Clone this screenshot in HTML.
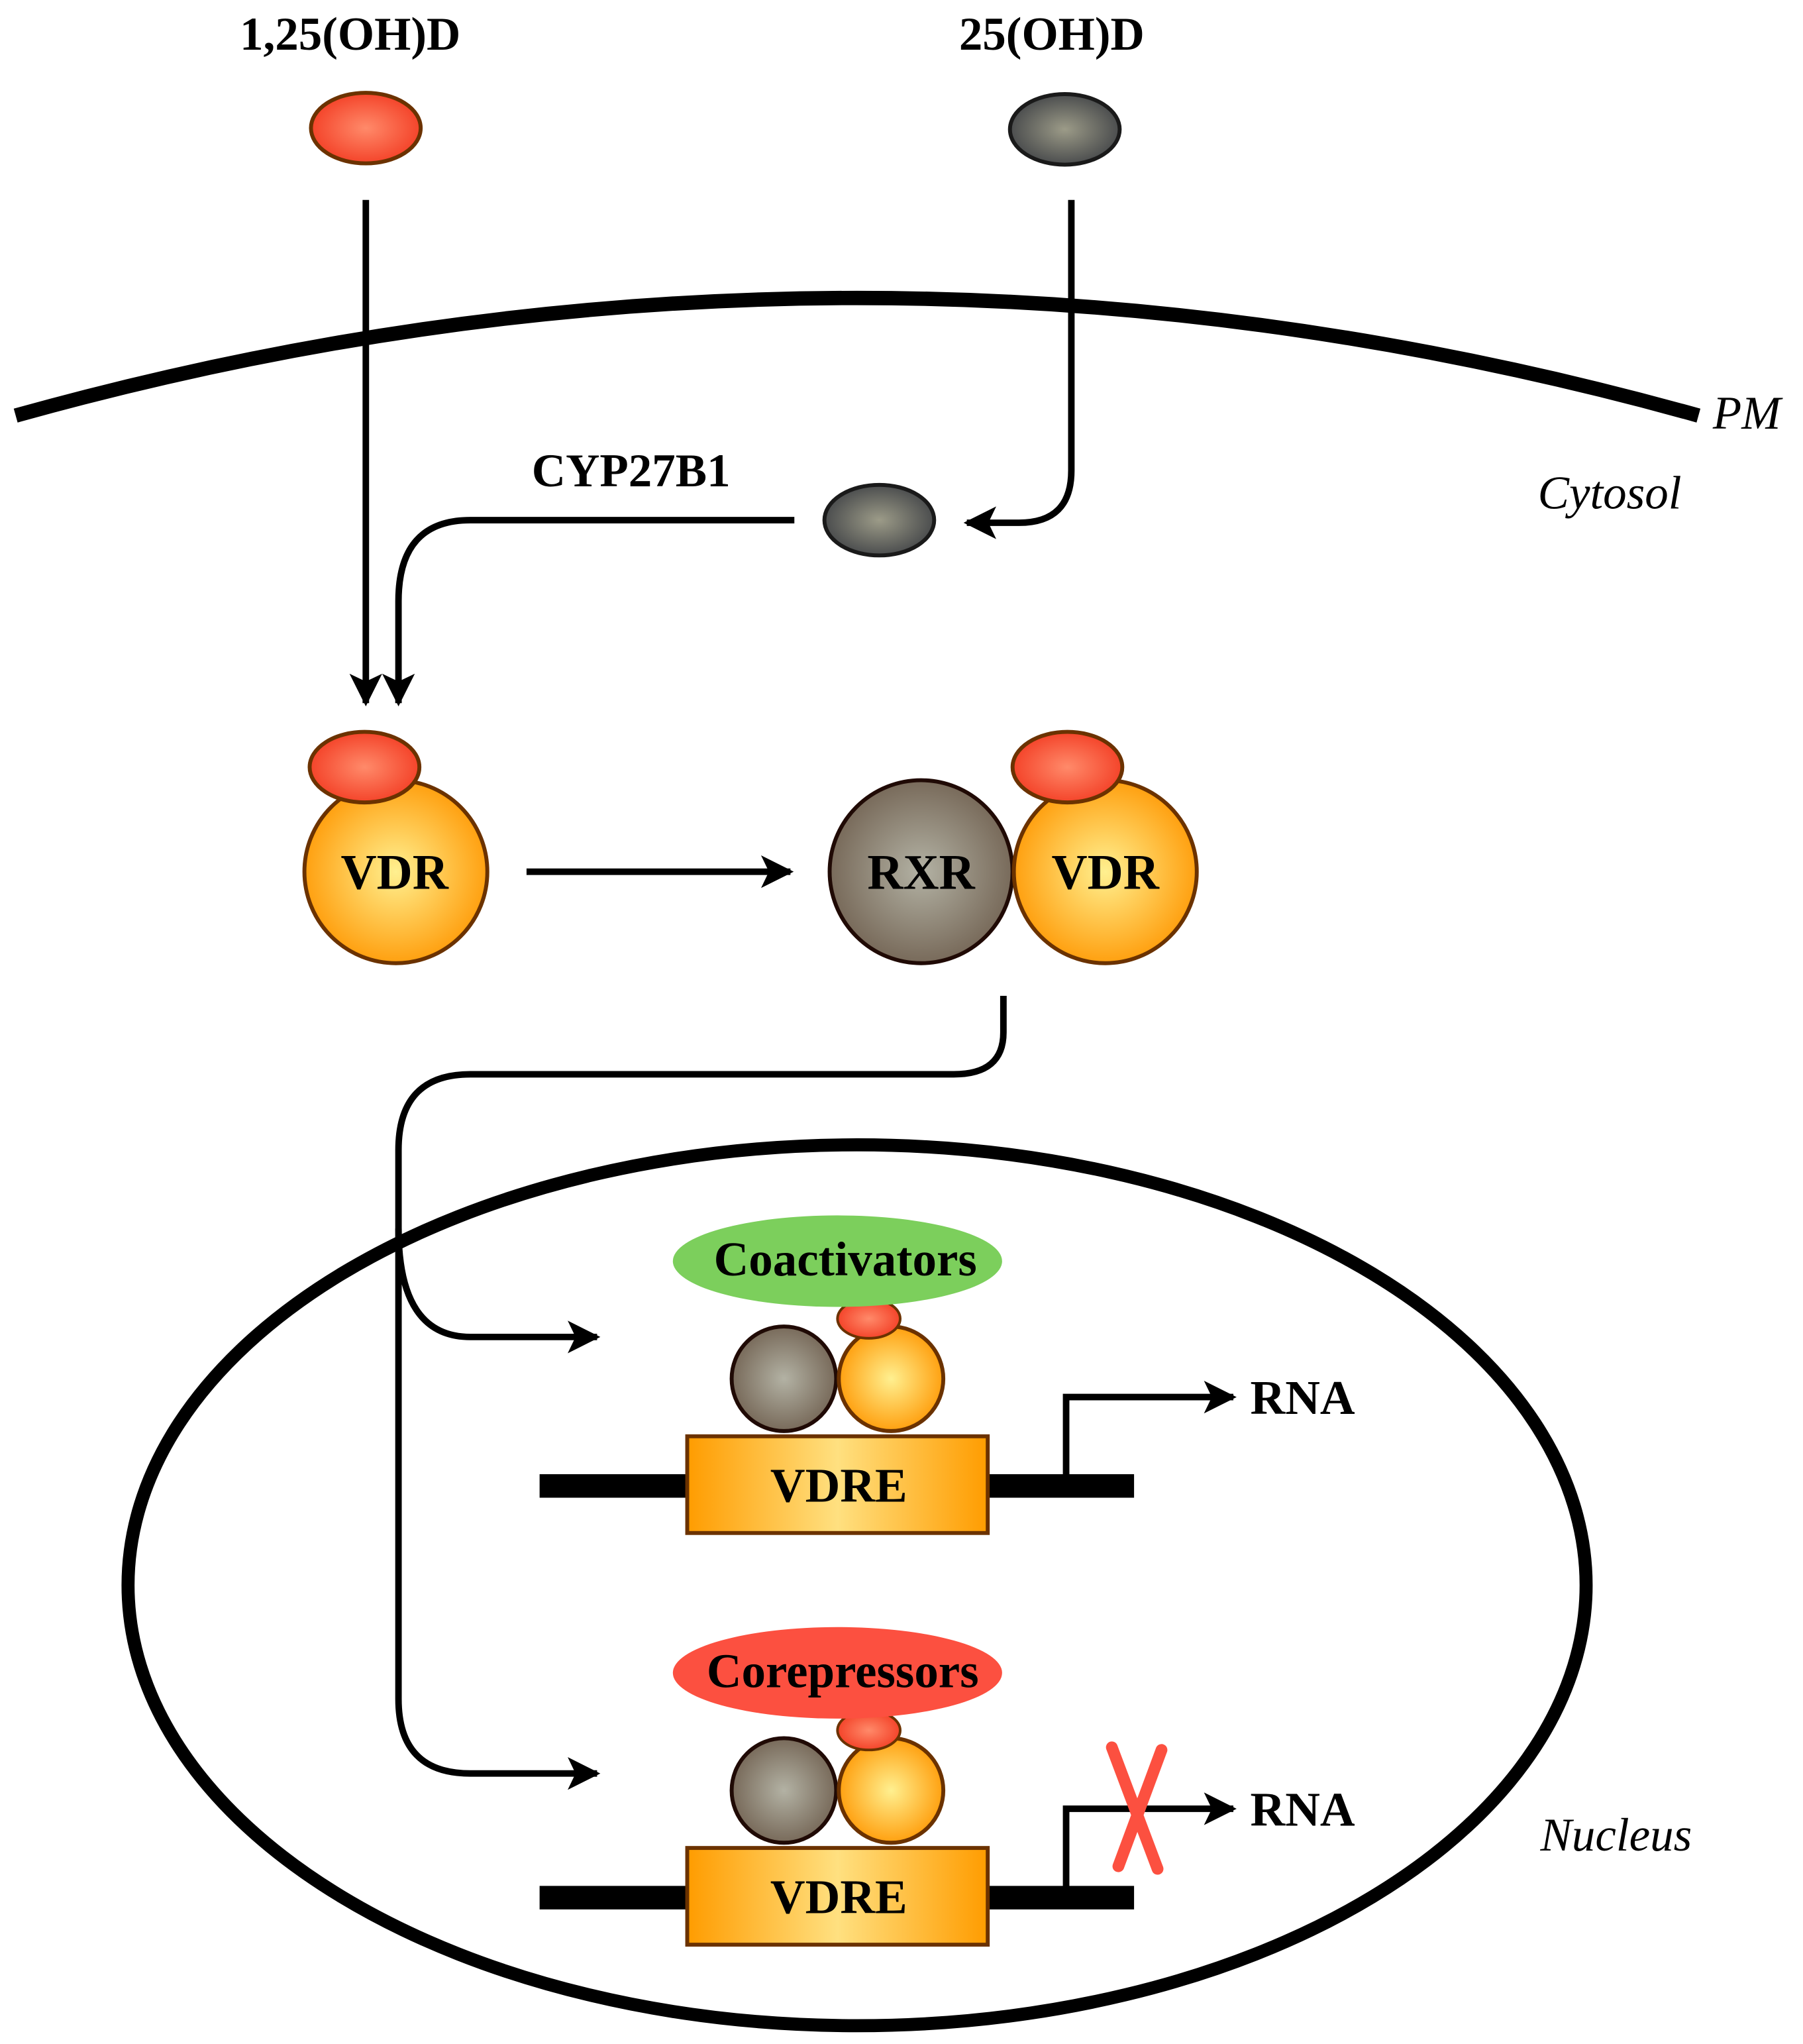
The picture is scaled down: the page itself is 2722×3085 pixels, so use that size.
<!DOCTYPE html>
<html><head><meta charset="utf-8"><style>html,body{margin:0;padding:0;background:#fff}svg{display:block}</style></head>
<body>
<svg width="2722" height="3085" viewBox="0 0 1380 1564" preserveAspectRatio="none" xmlns="http://www.w3.org/2000/svg">
<defs>
<radialGradient id="red"><stop offset="0" stop-color="#ff8a6a"/><stop offset="1" stop-color="#f4442a"/></radialGradient>
<radialGradient id="grey"><stop offset="0" stop-color="#9c9b88"/><stop offset="1" stop-color="#4b4d4e"/></radialGradient>
<radialGradient id="rxr"><stop offset="0" stop-color="#b3b2a4"/><stop offset="1" stop-color="#786a5a"/></radialGradient>
<radialGradient id="org"><stop offset="0" stop-color="#fff090"/><stop offset="1" stop-color="#ffa010"/></radialGradient>
<linearGradient id="box" x1="0" x2="1"><stop offset="0" stop-color="#ff9c00"/><stop offset="0.5" stop-color="#ffe080"/><stop offset="1" stop-color="#ff9c00"/></linearGradient>
<marker id="ah" markerWidth="5" markerHeight="5" refX="4.5" refY="2.5" orient="auto" markerUnits="strokeWidth"><path d="M0,0 L5,2.5 L0,5 L1.2,2.5 Z" fill="#000"/></marker>
</defs>
<g font-family="'Liberation Serif',serif" font-weight="bold" fill="#000">
<text x="268" y="38" font-size="36" text-anchor="middle">1,25(OH)D</text>
<text x="805" y="38" font-size="36" text-anchor="middle">25(OH)D</text>
<text x="483" y="372" font-size="36" text-anchor="middle">CYP27B1</text>
</g>
<g font-family="'Liberation Serif',serif" font-style="italic" font-size="36" fill="#000">
<text x="1311" y="328">PM</text>
<text x="1177" y="389">Cytosol</text>
<text x="1179" y="1416">Nucleus</text>
</g>
<ellipse cx="280" cy="98" rx="42" ry="27" fill="url(#red)" stroke="#6b3200" stroke-width="3"/>
<ellipse cx="815" cy="99" rx="42" ry="27" fill="url(#grey)" stroke="#1a1a1a" stroke-width="3"/>
<ellipse cx="673" cy="398" rx="42" ry="27" fill="url(#grey)" stroke="#1a1a1a" stroke-width="3"/>
<path d="M12,318 Q656,138 1300,318" fill="none" stroke="#000" stroke-width="11"/>
<g fill="none" stroke="#000" stroke-width="5">
<path d="M280,153 V538" marker-end="url(#ah)"/>
<path d="M820,153 V360 Q820,400 780,400 H740" marker-end="url(#ah)"/>
<path d="M608,398 H360 Q305,398 305,460 V538" marker-end="url(#ah)"/>
<path d="M403,667 H605" marker-end="url(#ah)"/>
<path d="M768,762 V790 Q768,822 730,822 H360 Q305,822 305,880 V1300 Q305,1357 360,1357 H457" marker-end="url(#ah)"/>
<path d="M305,940 Q305,1023 360,1023 H457" marker-end="url(#ah)"/>
</g>
<ellipse cx="656" cy="1213" rx="558" ry="337" fill="none" stroke="#000" stroke-width="10"/>
<circle cx="303" cy="667" r="70" fill="url(#org)" stroke="#6b3200" stroke-width="3"/>
<ellipse cx="279" cy="587" rx="42" ry="27" fill="url(#red)" stroke="#6b3200" stroke-width="3"/>
<circle cx="705" cy="667" r="70" fill="url(#rxr)" stroke="#200a05" stroke-width="3"/>
<circle cx="846" cy="667" r="70" fill="url(#org)" stroke="#6b3200" stroke-width="3"/>
<ellipse cx="817" cy="587" rx="42" ry="27" fill="url(#red)" stroke="#6b3200" stroke-width="3"/>
<g font-family="'Liberation Serif',serif" font-weight="bold" font-size="38" text-anchor="middle">
<text x="302" y="680">VDR</text><text x="705" y="680">RXR</text><text x="846" y="680">VDR</text>
</g>
<g id="c1">
<line x1="413" y1="1137" x2="868" y2="1137" stroke="#000" stroke-width="18"/>
<path d="M816,1137 V1069 H944" fill="none" stroke="#000" stroke-width="5" marker-end="url(#ah)"/>
<rect x="526" y="1099" width="230" height="74" fill="url(#box)" stroke="#6b3200" stroke-width="3"/>
<circle cx="600" cy="1055" r="40" fill="url(#rxr)" stroke="#200a05" stroke-width="3"/>
<circle cx="682" cy="1055" r="40" fill="url(#org)" stroke="#6b3200" stroke-width="3"/>
<ellipse cx="665" cy="1009" rx="24" ry="15" fill="url(#red)" stroke="#6b3200" stroke-width="2"/>
<text x="642" y="1149" font-family="'Liberation Serif',serif" font-weight="bold" font-size="37" text-anchor="middle">VDRE</text>
<text x="997" y="1082" font-family="'Liberation Serif',serif" font-weight="bold" font-size="37" text-anchor="middle">RNA</text>
</g>
<ellipse cx="641" cy="965" rx="126" ry="35" fill="#7ccf5c"/>
<text x="647" y="976" font-family="'Liberation Serif',serif" font-weight="bold" font-size="37" text-anchor="middle">Coactivators</text>
<use href="#c1" transform="translate(0,315)"/>
<ellipse cx="641" cy="1280" rx="126" ry="35" fill="#fc5040"/>
<text x="645" y="1291" font-family="'Liberation Serif',serif" font-weight="bold" font-size="37" text-anchor="middle">Corepressors</text>
<g stroke="#fc5040" stroke-width="9" stroke-linecap="round">
<line x1="851" y1="1337" x2="886" y2="1430"/><line x1="889" y1="1339" x2="856" y2="1428"/>
</g>
</svg>
</body></html>
